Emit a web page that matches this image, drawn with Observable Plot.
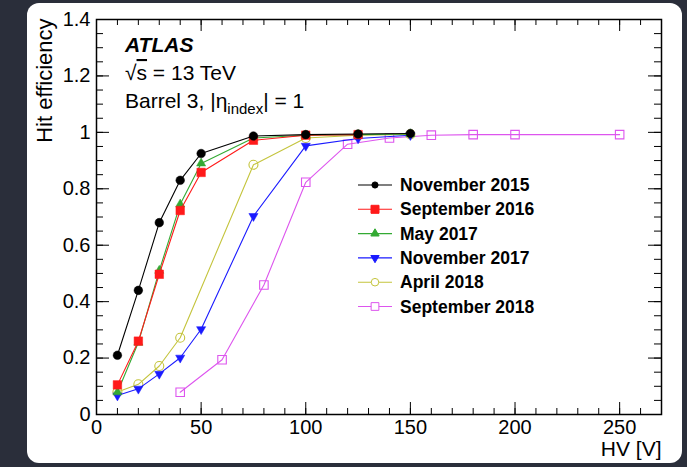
<!DOCTYPE html>
<html><head><meta charset="utf-8">
<script src="https://cdn.jsdelivr.net/npm/d3@7"></script>
<script src="https://cdn.jsdelivr.net/npm/@observablehq/plot@0.6"></script>
<style>
html,body{margin:0;padding:0;background:#2a2e3a;width:687px;height:467px;overflow:hidden;}
#card{position:absolute;left:27px;top:3px;width:655px;height:460px;background:#fff;border-radius:12px;}
#chart{position:absolute;left:0;top:0;}
</style></head><body><div id="card"></div><div id="chart"></div>
<script>
// ---- data ----
const hvStd = [10, 20, 30, 40, 50, 75, 100, 125, 150];
const effNov2015 = [0.21, 0.44, 0.68, 0.83, 0.925, 0.987, 0.992, 0.994, 0.996];
const hvSep2016 = [10, 20, 30, 40, 50, 75, 100, 125];
const effSep2016 = [0.105, 0.26, 0.497, 0.723, 0.858, 0.972, 0.99, 0.992];
const effMay2017 = [0.079, 0.255, 0.51, 0.745, 0.89, 0.98, 0.99, 0.992, 0.994];
const effNov2017 = [0.067, 0.091, 0.144, 0.201, 0.302, 0.703, 0.952, 0.978, 0.99];
const hvApr2018 = [10, 20, 30, 40, 75, 100, 125, 150];
const effApr2018 = [0.08, 0.107, 0.172, 0.272, 0.885, 0.98, 0.99, 0.993];
const hvSep2018 = [40, 60, 80, 100, 120, 140, 160, 180, 200, 250];
const effSep2018 = [0.079, 0.194, 0.459, 0.823, 0.958, 0.98, 0.99, 0.992, 0.992, 0.992];

const seriesNames = ["November 2015", "September 2016", "May 2017", "November 2017", "April 2018", "September 2018"];
const xMajor = [0, 50, 100, 150, 200, 250];
const xTickLabels = ["0", "50", "100", "150", "200", "250"];
const yMajor = [0, 0.2, 0.4, 0.6, 0.8, 1, 1.2, 1.4];
const yTickLabels = ["0", "0.2", "0.4", "0.6", "0.8", "1", "1.2", "1.4"];
const xMinor = d3.range(0, 271, 10);
const yMinor = d3.range(0, 1.4001, 0.05);

// ---- layout ----
const W = 687, H = 467, mL = 96, mR = 26, mT = 19, mB = 53;
const pw = W - mL - mR, ph = H - mT - mB;

// ---- styles ----
const triangleDown = {draw(ctx, size) {
  const s3 = Math.sqrt(3), y = -Math.sqrt(size / (s3 * 3));
  ctx.moveTo(0, -2 * y); ctx.lineTo(-s3 * y, y); ctx.lineTo(s3 * y, y); ctx.closePath();
}};
const styles = [
  {color: "#000000", symbol: "circle", d3sym: d3.symbolCircle, filled: true, r: 4.3, lsize: 30},
  {color: "#ff1a1a", symbol: "square", d3sym: d3.symbolSquare, filled: true, r: 4.8, lsize: 64},
  {color: "#33aa33", symbol: "triangle", d3sym: d3.symbolTriangle, filled: true, r: 3.4, lsize: 30},
  {color: "#1a1aff", symbol: triangleDown, d3sym: triangleDown, filled: true, r: 3.4, lsize: 30},
  {color: "#c4c43c", symbol: "circle", d3sym: d3.symbolCircle, filled: false, r: 4.5, lsize: 45},
  {color: "#dd55ee", symbol: "square", d3sym: d3.symbolSquare, filled: false, r: 4.8, lsize: 60}
];
const xs = [hvStd, hvSep2016, hvStd, hvStd, hvApr2018, hvSep2018];
const ys = [effNov2015, effSep2016, effMay2017, effNov2017, effApr2018, effSep2018];
const series = seriesNames.map((name, k) => ({name, ...styles[k], rows: xs[k].map((h, i) => ({hv: h, eff: ys[k][i]}))}));

const marks = [];
for (const s of [...series].reverse()) {
  marks.push(Plot.line(s.rows, {x: "hv", y: "eff", stroke: s.color, strokeWidth: 1.1}));
  marks.push(Plot.dot(s.rows, {x: "hv", y: "eff", symbol: s.symbol, r: s.r,
    fill: s.filled ? s.color : "none", stroke: s.color, strokeWidth: s.filled ? 0.5 : 1.1}));
}
const fmtX = d => xTickLabels[xMajor.indexOf(d)];
const fmtY = d => yTickLabels[yMajor.findIndex(v => Math.abs(v - d) < 1e-9)];

const chart = Plot.plot({
  width: W, height: H,
  marginLeft: mL, marginRight: mR, marginTop: mT, marginBottom: mB,
  style: {background: "transparent", fontFamily: "'Liberation Sans', Arial, sans-serif", color: "black", overflow: "visible"},
  x: {domain: [0, 270], axis: null},
  y: {domain: [0, 1.4], axis: null},
  marks: [
    // inward ticks (rules inset from the frame)
    Plot.ruleX(xMajor, {x: d => d, insetTop: ph - 12, stroke: "black"}),
    Plot.ruleX(xMinor, {x: d => d, insetTop: ph - 6, stroke: "black"}),
    Plot.ruleX(xMajor, {x: d => d, insetBottom: ph - 12, stroke: "black"}),
    Plot.ruleX(xMinor, {x: d => d, insetBottom: ph - 6, stroke: "black"}),
    Plot.ruleY(yMajor, {y: d => d, insetRight: pw - 13, stroke: "black"}),
    Plot.ruleY(yMinor, {y: d => d, insetRight: pw - 7, stroke: "black"}),
    Plot.ruleY(yMajor, {y: d => d, insetLeft: pw - 13, stroke: "black"}),
    Plot.ruleY(yMinor, {y: d => d, insetLeft: pw - 7, stroke: "black"}),
    // labels
    Plot.axisX({anchor: "bottom", ticks: xMajor, tickSize: 0, tickPadding: 5, tickFormat: fmtX, fontSize: 20, label: null}),
    Plot.axisY({anchor: "left", ticks: yMajor, tickSize: 0, tickPadding: 6, tickFormat: fmtY, fontSize: 20, label: null}),
    Plot.text(["HV [V]"], {frameAnchor: "bottom-right", textAnchor: "end", dy: 41, fontSize: 21}),
    Plot.text(["Hit efficiency"], {frameAnchor: "top-left", rotate: -90, textAnchor: "end", dx: -60, dy: -1, fontSize: 22}),
    Plot.frame({stroke: "black", strokeWidth: 1.5}),
    ...marks
  ]
});
document.getElementById("chart").appendChild(chart);

// ---- annotations & legend ----
const svg = d3.select(chart);
const ann = svg.append("g").attr("font-family", "'Liberation Sans', Arial, sans-serif").attr("fill", "black").attr("text-anchor", "start");
ann.append("text").attr("x", 125).attr("y", 52).attr("font-size", 21).attr("font-weight", "bold").attr("font-style", "italic").text("ATLAS");
const t2 = ann.append("text").attr("x", 125).attr("y", 80).attr("font-size", 21);
t2.append("tspan").text("√");
t2.append("tspan").attr("text-decoration", "overline").text("s");
t2.append("tspan").text(" = 13 TeV");
const t3 = ann.append("text").attr("x", 125).attr("y", 108).attr("font-size", 21);
t3.append("tspan").text("Barrel 3, |η");
t3.append("tspan").attr("font-size", 15).attr("dy", 6).text("index");
t3.append("tspan").attr("dy", -6).text("| = 1");

const leg = svg.append("g").attr("font-family", "'Liberation Sans', Arial, sans-serif").attr("text-anchor", "start");
series.forEach((s, i) => {
  const cy = 185 + i * 24.3;
  leg.append("line").attr("x1", 358).attr("x2", 392).attr("y1", cy).attr("y2", cy).attr("stroke", s.color).attr("stroke-width", 1.1);
  leg.append("path").attr("d", d3.symbol(s.d3sym, s.lsize)()).attr("transform", `translate(375,${cy})`)
    .attr("fill", s.filled ? s.color : "white").attr("stroke", s.color).attr("stroke-width", 1);
  leg.append("text").attr("x", 400).attr("y", cy).attr("dy", "0.35em").attr("font-size", 17.5).attr("font-weight", "bold").attr("fill", "black").text(s.name);
});
</script></body></html>
